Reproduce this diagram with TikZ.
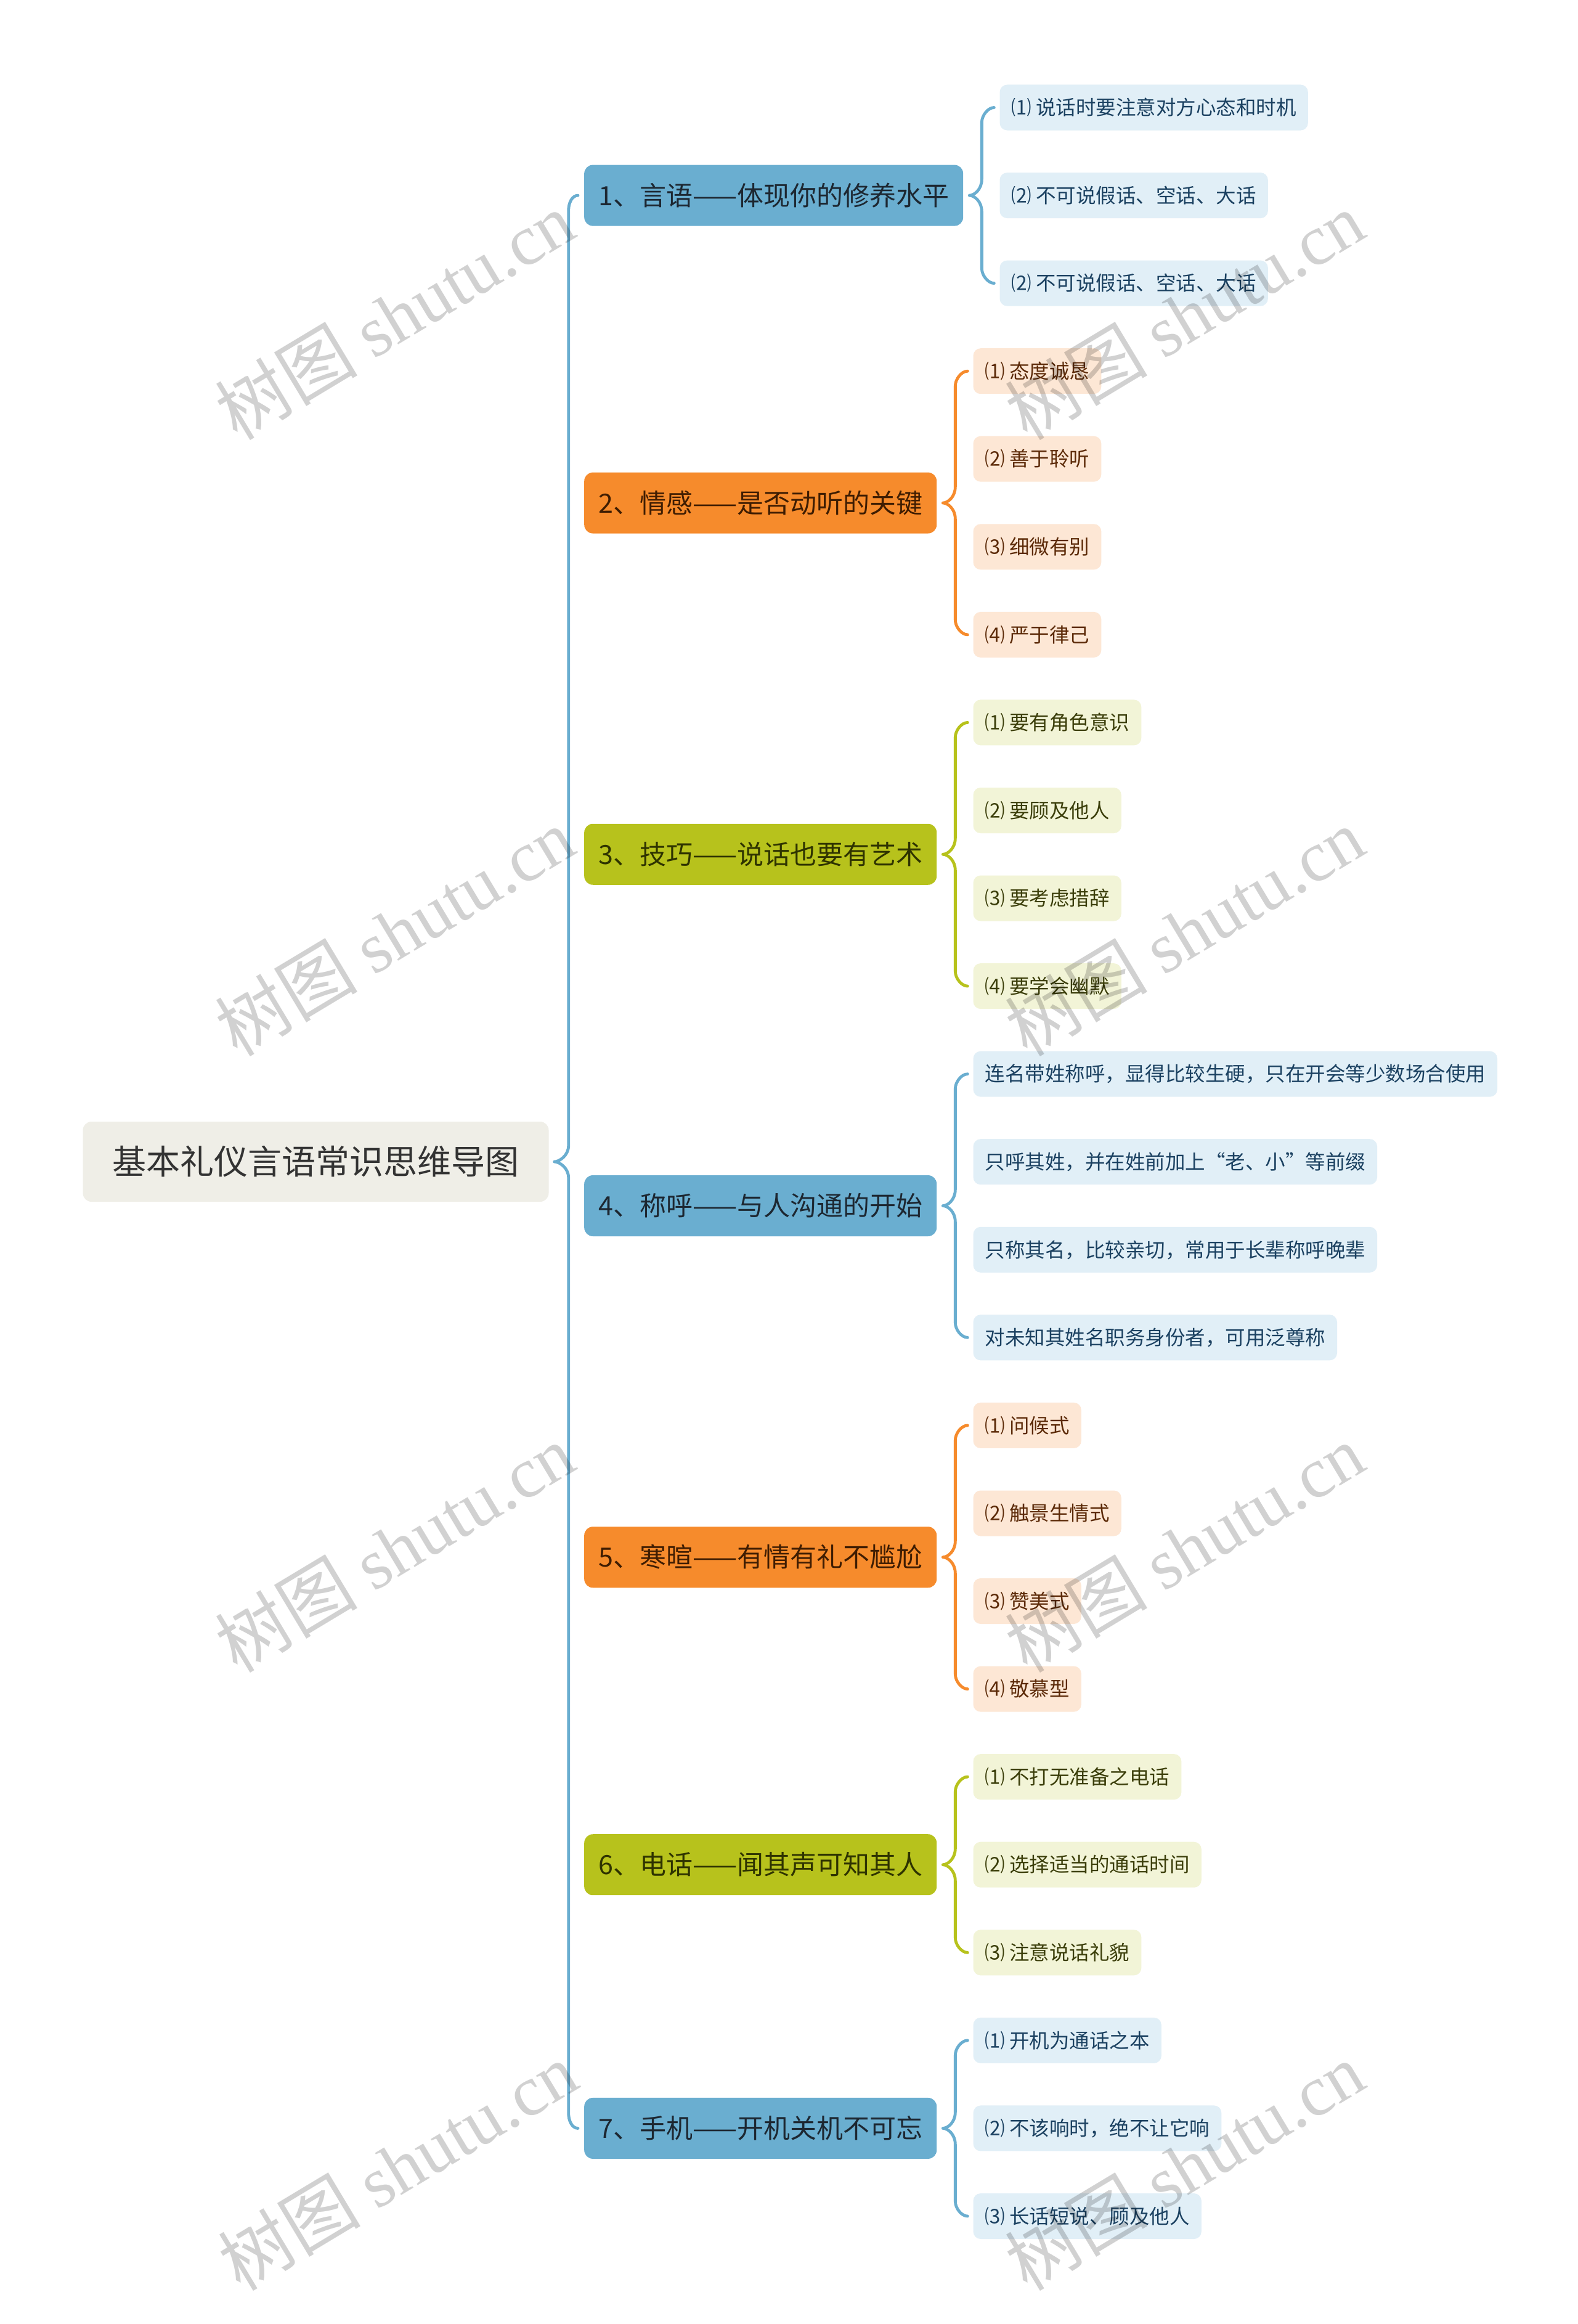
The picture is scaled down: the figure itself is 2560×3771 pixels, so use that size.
\documentclass[tikz,border=0pt]{standalone}
\usepackage{fontspec}
\setmainfont{Noto Sans CJK SC}
\newfontfamily\wmlatin{Liberation Serif}
\usetikzlibrary{calc}
\definecolor{blueB}{HTML}{6AAED0}
\definecolor{blueBt}{HTML}{1D2731}
\definecolor{orB}{HTML}{F68B2C}
\definecolor{orBt}{HTML}{3F1D02}
\definecolor{olB}{HTML}{B7C21C}
\definecolor{olBt}{HTML}{2E3300}
\definecolor{blueL}{HTML}{E1EFF7}
\definecolor{blueLt}{HTML}{1B4161}
\definecolor{orL}{HTML}{FDE7D5}
\definecolor{orLt}{HTML}{5C2A08}
\definecolor{olL}{HTML}{F2F4D7}
\definecolor{olLt}{HTML}{3B3E0A}
\definecolor{rootbg}{HTML}{EFEEE7}
\definecolor{roottext}{HTML}{333333}
\tikzset{
  rootbox/.style={fill=rootbg, text=roottext, rounded corners=14pt, inner xsep=48pt, inner ysep=0pt,
    minimum height=130pt, text height=48pt, text depth=7pt, font=\fontsize{55}{60}\selectfont},
  branchbox/.style={rounded corners=14pt, inner xsep=23pt, inner ysep=0pt, minimum height=99pt,
    text height=37.5pt, text depth=5.5pt, anchor=west, font=\fontsize{43}{48}\selectfont},
  leafbox/.style={rounded corners=12pt, inner xsep=19pt, inner ysep=0pt, minimum height=74pt,
    text height=28.5pt, text depth=4pt, anchor=west, font=\fontsize{32.5}{40}\selectfont},
  bB/.style={branchbox, fill=blueB, text=blueBt},
  bO/.style={branchbox, fill=orB, text=orBt},
  bG/.style={branchbox, fill=olB, text=olBt},
  lB/.style={leafbox, fill=blueL, text=blueLt},
  lO/.style={leafbox, fill=orL, text=orLt},
  lG/.style={leafbox, fill=olL, text=olLt},
  brc/.style={line width=4.8pt, line cap=round, line join=round},
  wm/.style={rotate=31, text=black, text opacity=0.18, inner sep=0pt, font=\fontsize{116}{120}\selectfont}
}
% parent, first, last, colour, tip offset, vertical offset, end gap
\newcommand\drawbrace[7]{%
  \draw[brc,draw=#4] let \p1=(#1.east), \p2=(#2.west), \p3=(#3.west),
      \p4=(\x1+#6,\y1), \p5=(\x1+#5,\y1), \p6=(\x2-#7,\y2), \p7=(\x3-#7,\y3) in
    (\p6) .. controls (\x6-10pt,\y6) and (\x4,\y6-13pt) .. (\x4,\y6-24pt)
    -- (\x4,\y1+26pt) .. controls (\x4,\y1+10pt) and (\x5+8pt,\y1) .. (\p5)
    .. controls (\x5+8pt,\y1) and (\x4,\y1-10pt) .. (\x4,\y1-26pt)
    -- (\x4,\y7+24pt) .. controls (\x4,\y7+13pt) and (\x7-10pt,\y7) .. (\p7);
}
\begin{document}
\begin{tikzpicture}[x=1pt,y=-1pt]
\useasboundingbox (0,0) rectangle (2560,3771);
\fill[white] (0,0) rectangle (2560,3771);

\node[rootbox] (root) at (512.5,1885) {基本礼仪言语常识思维导图};

\node[bB] (b1) at (948,317.1) {1、言语——体现你的修养水平};
\node[bO] (b2) at (948,816.05) {2、情感——是否动听的关键};
\node[bG] (b3) at (948,1386.25) {3、技巧——说话也要有艺术};
\node[bB] (b4) at (948,1956.5) {4、称呼——与人沟通的开始};
\node[bO] (b5) at (948,2526.75) {5、寒暄——有情有礼不尴尬};
\node[bG] (b6) at (948,3025.7) {6、电话——闻其声可知其人};
\node[bB] (b7) at (948,3453.4) {7、手机——开机关机不可忘};

% leaves of branch 1
\node[lB] (l11) at ($(b1.east |- 0,174.5)+(59pt,0)$) {⑴ 说话时要注意对方心态和时机};
\node[lB] (l12) at ($(b1.east |- 0,317.1)+(59pt,0)$) {⑵ 不可说假话、空话、大话};
\node[lB] (l13) at ($(b1.east |- 0,459.6)+(59pt,0)$) {⑵ 不可说假话、空话、大话};
% branch 2
\node[lO] (l21) at ($(b2.east |- 0,602.2)+(59pt,0)$) {⑴ 态度诚恳};
\node[lO] (l22) at ($(b2.east |- 0,744.7)+(59pt,0)$) {⑵ 善于聆听};
\node[lO] (l23) at ($(b2.east |- 0,887.3)+(59pt,0)$) {⑶ 细微有别};
\node[lO] (l24) at ($(b2.east |- 0,1029.9)+(59pt,0)$) {⑷ 严于律己};
% branch 3
\node[lG] (l31) at ($(b3.east |- 0,1172.4)+(59pt,0)$) {⑴ 要有角色意识};
\node[lG] (l32) at ($(b3.east |- 0,1315.0)+(59pt,0)$) {⑵ 要顾及他人};
\node[lG] (l33) at ($(b3.east |- 0,1457.5)+(59pt,0)$) {⑶ 要考虑措辞};
\node[lG] (l34) at ($(b3.east |- 0,1600.1)+(59pt,0)$) {⑷ 要学会幽默};
% branch 4
\node[lB] (l41) at ($(b4.east |- 0,1742.7)+(59pt,0)$) {连名带姓称呼，显得比较生硬，只在开会等少数场合使用};
\node[lB] (l42) at ($(b4.east |- 0,1885.2)+(59pt,0)$) {只呼其姓，并在姓前加上“老、小”等前缀};
\node[lB] (l43) at ($(b4.east |- 0,2027.8)+(59pt,0)$) {只称其名，比较亲切，常用于长辈称呼晚辈};
\node[lB] (l44) at ($(b4.east |- 0,2170.3)+(59pt,0)$) {对未知其姓名职务身份者，可用泛尊称};
% branch 5
\node[lO] (l51) at ($(b5.east |- 0,2312.9)+(59pt,0)$) {⑴ 问候式};
\node[lO] (l52) at ($(b5.east |- 0,2455.5)+(59pt,0)$) {⑵ 触景生情式};
\node[lO] (l53) at ($(b5.east |- 0,2598.0)+(59pt,0)$) {⑶ 赞美式};
\node[lO] (l54) at ($(b5.east |- 0,2740.6)+(59pt,0)$) {⑷ 敬慕型};
% branch 6
\node[lG] (l61) at ($(b6.east |- 0,2883.1)+(59pt,0)$) {⑴ 不打无准备之电话};
\node[lG] (l62) at ($(b6.east |- 0,3025.7)+(59pt,0)$) {⑵ 选择适当的通话时间};
\node[lG] (l63) at ($(b6.east |- 0,3168.3)+(59pt,0)$) {⑶ 注意说话礼貌};
% branch 7
\node[lB] (l71) at ($(b7.east |- 0,3310.8)+(59pt,0)$) {⑴ 开机为通话之本};
\node[lB] (l72) at ($(b7.east |- 0,3453.4)+(59pt,0)$) {⑵ 不该响时，绝不让它响};
\node[lB] (l73) at ($(b7.east |- 0,3596.0)+(59pt,0)$) {⑶ 长话短说、顾及他人};

% connectors
\drawbrace{root}{b1}{b7}{blueB}{9pt}{32pt}{10pt}
\drawbrace{b1}{l11}{l13}{blueB}{10pt}{30pt}{9pt}
\drawbrace{b2}{l21}{l24}{orB}{10pt}{30pt}{9pt}
\drawbrace{b3}{l31}{l34}{olB}{10pt}{30pt}{9pt}
\drawbrace{b4}{l41}{l44}{blueB}{10pt}{30pt}{9pt}
\drawbrace{b5}{l51}{l54}{orB}{10pt}{30pt}{9pt}
\drawbrace{b6}{l61}{l63}{olB}{10pt}{30pt}{9pt}
\drawbrace{b7}{l71}{l73}{blueB}{10pt}{30pt}{9pt}

% watermarks
\node[wm] (w1) at (640,512) {树图 {\wmlatin shutu.cn}};
\node[wm] (w2) at (640,1512) {树图 {\wmlatin shutu.cn}};
\node[wm] (w3) at (640,2512) {树图 {\wmlatin shutu.cn}};
\node[wm] (w4) at (645,3515) {树图 {\wmlatin shutu.cn}};
\node[wm] (w5) at (1922,512) {树图 {\wmlatin shutu.cn}};
\node[wm] (w6) at (1922,1512) {树图 {\wmlatin shutu.cn}};
\node[wm] (w7) at (1922,2512) {树图 {\wmlatin shutu.cn}};
\node[wm] (w8) at (1922,3515) {树图 {\wmlatin shutu.cn}};
\end{tikzpicture}
\end{document}
